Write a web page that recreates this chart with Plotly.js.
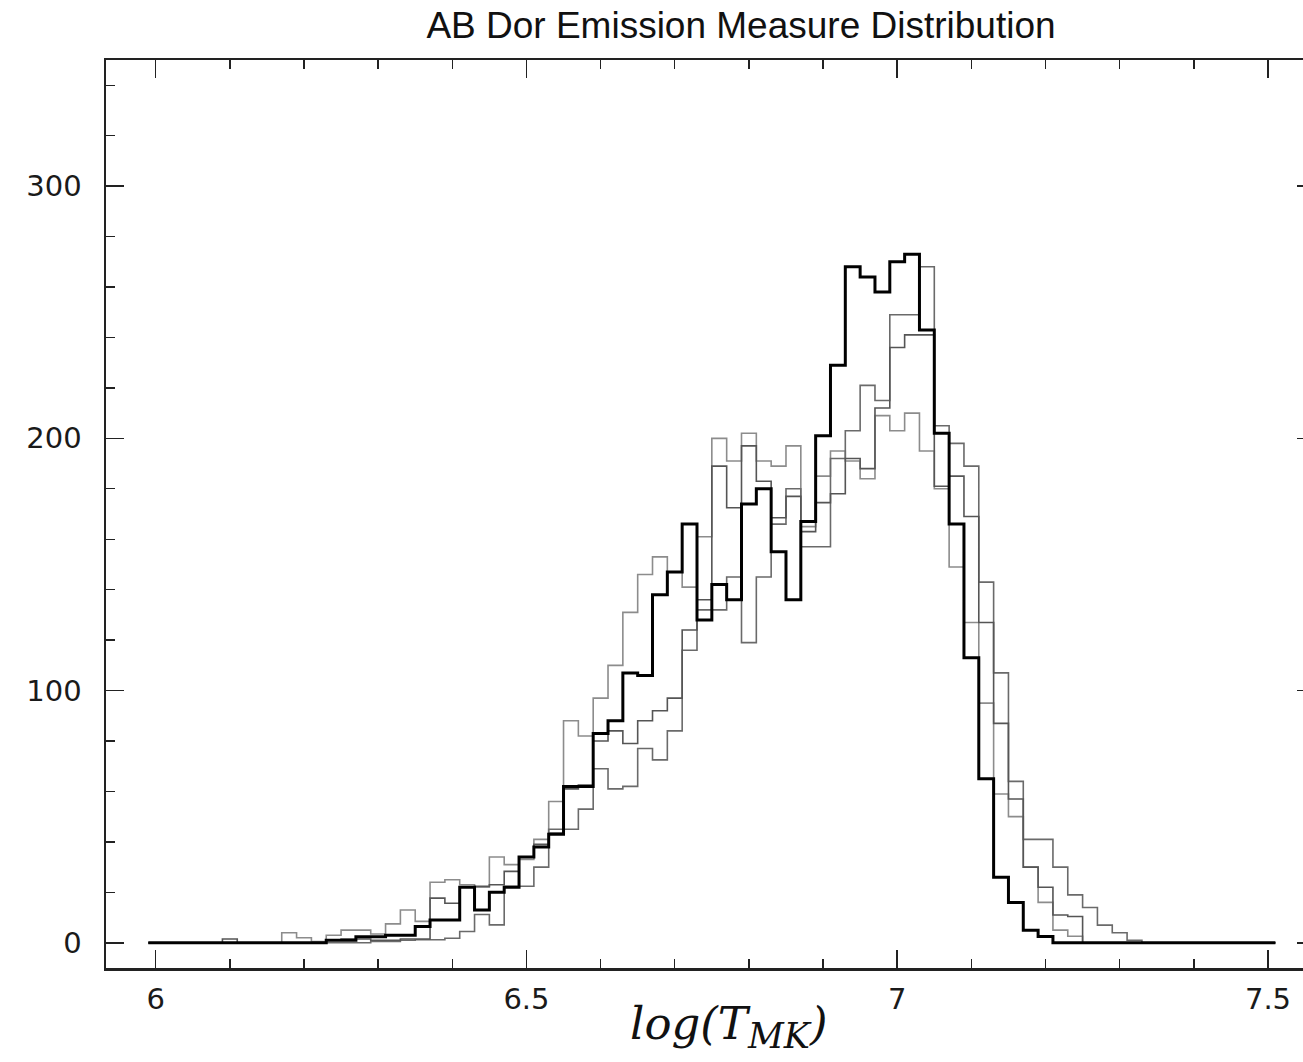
<!DOCTYPE html>
<html>
<head>
<meta charset="utf-8">
<script src="https://cdn.plot.ly/plotly-3.0.1.min.js"></script>
<style>
  html, body { margin: 0; padding: 0; overflow: hidden; background: #fff; }
  #chart { width: 1330px; height: 1062px; }
</style>
</head>
<body>
<div id="chart"></div>
<script>
// Histogram bins: centres at 6.00, 6.02, ... 7.50 (log T), bin width 0.02
const binFirstCentre = 6.00;
const binWidth = 0.02;

// Emission measure per bin (thick black curve)
const emBlack = [0,0,0,0,0,0,0,0,0,0,0,0,
  1,1,2.4,2.4,3,3,6.5,9,9,22,
  13,20,22,34,38,43,62,62,83,88,
  107,106,138,147,166,128,142,136,174,180,
  155,136,167,201,229,268,264,258,270,273,
  243,202,166,113,65,26,16,5,2.5,
  0,0,0,0,0,0,0,0,0,0,0,0,0,0,0];

// Grey curve A (peaks early, lower maximum)
const emGreyA = [0,0,0,0,0,0,0,0,0,
  4,2,0.5,3,5,5,3.5,7.5,13,8.5,
  24,25,23,22,34,31,33,41,56,88,
  82,97,110,131,146,153,147,141,161,200,
  191,202,191,189,197,165,185,195,191,184,
  209,203,210,195,180,149,127,95,59,50,
  30,16,5,2.6,
  0,0,0,0,0,0,0,0,0,0,0,0,0];

// Grey curve B (intermediate)
const emGreyB = [0,0,0,0,0,1.5,0,0,0,0,0,0,
  1,1.5,1.5,1,1,1.5,1.5,17.7,15.7,22,
  22.4,23,28.3,34,39,43.5,61,62.5,80,84,
  79,88,92,97,124,136,189,172.5,197,183,
  168.5,177,163,174.5,178,192,188,212,236,241,
  241,181,185,169,127,87,57,30,22,11,
  10.4,
  0,0,0,0,0,0,0,0,0,0,0,0,0];

// Grey curve C (peaks late, highest grey maximum, longest hot tail)
const emGreyC = [0,0,0,0,0,0,0,0,0,0,0,0,0,0,0,
  0.5,0.5,1,1.2,1.2,1.8,4.5,11.2,7.1,22.4,
  22.4,30,45,45,53,69,61,62,77,72.5,
  84,116,132,132,145,119,145,166,180,157,
  157,192,203,221,215,249,249,268,205,198,
  189,143,107,64,41,41,30,19,14,7,
  4,1,
  0,0,0,0,0,0,0,0,0];

const xTickVals = [6, 6.5, 7, 7.5];
const xTickText = ['6', '6.5', '7', '7.5'];
const yTickVals = [0, 100, 200, 300];
const yTickText = ['0', '100', '200', '300'];

// bin edges for a step ("hv") outline
function edges(n) {
  const e = [];
  for (let i = 0; i <= n; i++) e.push(+(binFirstCentre - binWidth / 2 + i * binWidth).toFixed(4));
  return e;
}
function stepY(v) { return v.concat([v[v.length - 1]]); }

function stepTrace(vals, color, width, name) {
  return {
    type: 'scatter', mode: 'lines', name: name,
    x: edges(vals.length), y: stepY(vals),
    line: { shape: 'hv', color: color, width: width },
    hoverinfo: 'x+y'
  };
}

const data = [
  stepTrace(emGreyA, '#8c8c8c', 1.6, 'A'),
  stepTrace(emGreyC, '#6a6a6a', 1.6, 'C'),
  stepTrace(emGreyB, '#555555', 1.6, 'B'),
  stepTrace(emBlack, '#000000', 3, 'Total')
];

const axisCommon = {
  showline: true, linecolor: '#222', linewidth: 2.5, mirror: 'ticks',
  ticks: 'inside', ticklen: 18, tickwidth: 1.6, tickcolor: '#222',
  showgrid: false, zeroline: false,
  tickfont: { family: 'DejaVu Sans', size: 29, color: '#1a1a1a' }
};

const layout = {
  width: 1330, height: 1062,
  margin: { l: 106, r: 15, t: 60, b: 94 },
  paper_bgcolor: '#fff', plot_bgcolor: '#fff',
  showlegend: false,
  title: {
    text: 'AB Dor Emission Measure Distribution',
    font: { family: 'Liberation Sans, Arial, sans-serif', size: 37, color: '#111' },
    xref: 'paper', x: (741 - 106) / 1209, xanchor: 'center',
    yref: 'container', y: 1 - 25 / 1062, yanchor: 'middle'
  },
  xaxis: Object.assign({}, axisCommon, {
    range: [5.933, 7.5634],
    tickmode: 'array', tickvals: xTickVals, ticktext: xTickText,
    minor: { ticks: 'inside', ticklen: 9, tickwidth: 1.4, tickcolor: '#222', dtick: 0.1, tick0: 6 },
    ticklabelstandoff: 4
  }),
  yaxis: Object.assign({}, axisCommon, {
    range: [-10, 350],
    tickmode: 'array', tickvals: yTickVals, ticktext: yTickText,
    minor: { ticks: 'inside', ticklen: 9, tickwidth: 1.4, tickcolor: '#222', dtick: 20, tick0: 0 },
    ticklabelstandoff: 16
  }),
  annotations: [{
    text: 'log(T<sub><span style="font-size:35px">MK</span></sub>)',
    xref: 'paper', yref: 'paper',
    x: (728 - 106) / 1209, y: -(1026 - 968) / 908,
    xanchor: 'center', yanchor: 'middle', showarrow: false,
    font: { family: 'DejaVu Serif, Liberation Serif, serif', size: 45, style: 'italic', color: '#111' }
  }]
};

Plotly.newPlot('chart', data, layout, { displayModeBar: false, staticPlot: true });
</script>
</body>
</html>
